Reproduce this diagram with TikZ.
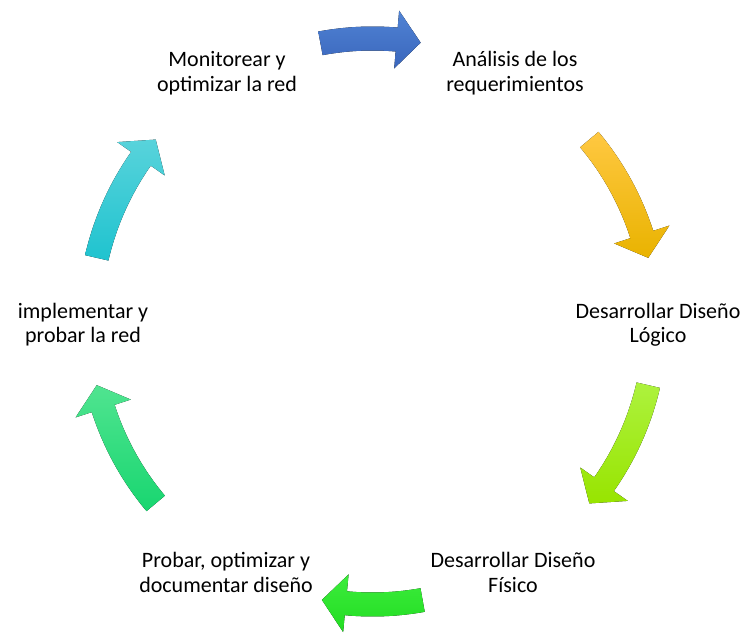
\documentclass[tikz,border=0pt]{standalone}
\usepackage{fontspec}
\setmainfont{Carlito}
\usepackage{tikz}
\definecolor{azulA}{HTML}{5083D4}
\definecolor{azulB}{HTML}{3A66BC}
\definecolor{amaA}{HTML}{FFC842}
\definecolor{amaB}{HTML}{E9B300}
\definecolor{limaA}{HTML}{ADF23E}
\definecolor{limaB}{HTML}{98E400}
\definecolor{verdeA}{HTML}{3CEC3C}
\definecolor{verdeB}{HTML}{22DD22}
\definecolor{mentaA}{HTML}{50E490}
\definecolor{mentaB}{HTML}{18D670}
\definecolor{cianA}{HTML}{58D3DB}
\definecolor{cianB}{HTML}{1FC3CF}
\tikzset{
	etapa/.style = {align=center, font=\fontsize{22}{25}\selectfont,
		inner sep=0pt, anchor=base}
}
% flecha curva: angulo cola, angulo punta, color arriba, color abajo
\newcommand{\flecha}[4]{%
	\fill[top color=#3, bottom color=#4]
	(#1:295) arc[start angle=#1, end angle=#2+4.9, radius=295]
	-- (#2+4.9:312) -- (#2:283) -- (#2+4.9:254) -- (#2+4.9:271)
	arc[start angle=#2+4.9, end angle=#1, radius=271] -- cycle;}

\begin{document}
\begin{tikzpicture}[x=1pt, y=1pt]
	\useasboundingbox (0,0) rectangle (745,633);
	\draw
	node at (227,541)[etapa] (mon) {Monitorear y\\optimizar la red}
	node at (515,541)[etapa] (ana) {Análisis de los\\requerimientos}
	node at (658,290)[etapa] (log) {Desarrollar Diseño\\Lógico}
	node at (513,41)[etapa] (fis) {Desarrollar Diseño\\Físico}
	node at (226,41)[etapa] (pro) {Probar, optimizar y\\documentar diseño}
	node at (83,290)[etapa] (imp) {implementar y\\probar la red};
	
	\begin{scope}[shift={(372.5,311.5)}]
		\flecha{100.6}{80.2}{azulA}{azulB}
		\flecha{40}{13}{amaA}{amaB}
		\flecha{-13}{-40}{limaA}{limaB}
		\flecha{-79.8}{-100.3}{verdeA}{verdeB}
		\flecha{-140}{-167}{mentaA}{mentaB}
		\flecha{167}{140}{cianA}{cianB}
	\end{scope}
\end{tikzpicture}
\end{document}
